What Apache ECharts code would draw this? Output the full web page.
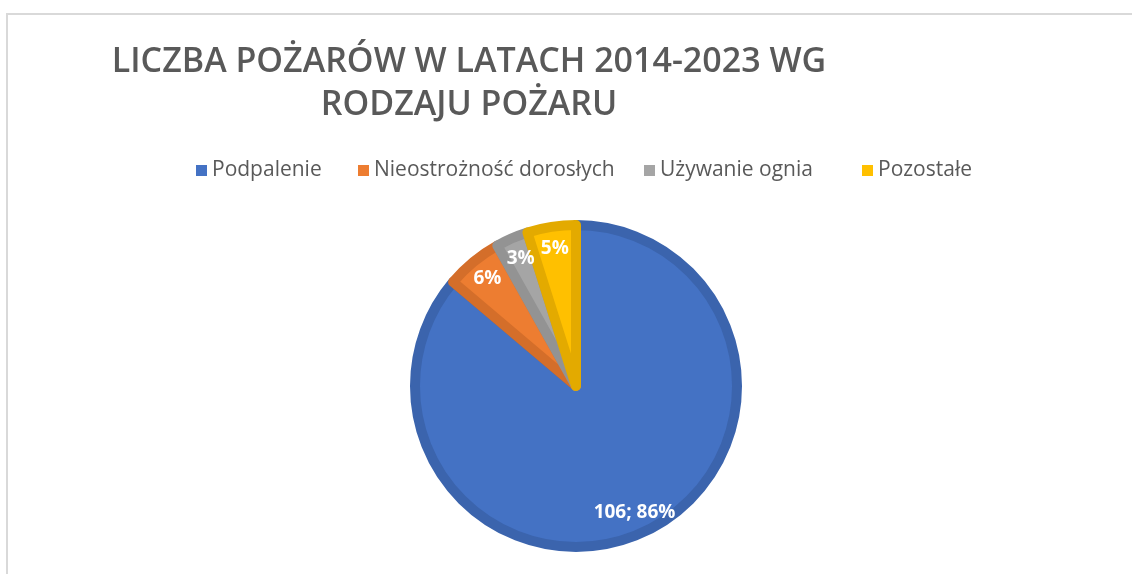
<!DOCTYPE html>
<html>
<head>
<meta charset="utf-8">
<script src="https://cdn.jsdelivr.net/npm/echarts@6/dist/echarts.min.js"></script>
<style>
  html, body { margin: 0; padding: 0; background: #fff; }
  #chart { width: 1132px; height: 574px; }
</style>
</head>
<body>
<div id="chart"></div>
<script>
const categories = ['Podpalenie', 'Nieostrożność dorosłych', 'Używanie ognia', 'Pozostałe']
const values = [106, 7, 4, 6]
const fillColors = ['#4472C4', '#ED7D31', '#A5A5A5', '#FFC000']
const edgeColors = ['#3B64AD', '#D46E2A', '#939393', '#E3AA00']
// left edge of each legend square
const legendLefts = [196, 358, 644, 862]

const cx = 576
const cy = 386
const R = 166

const chart = echarts.init(document.getElementById('chart'))

const pieData = categories.map((name, i) => ({
  name: name,
  value: values[i],
  itemStyle: { color: fillColors[i], borderColor: edgeColors[i] },
}))

const legends = categories.map((name, i) => ({
  data: [name],
  left: legendLefts[i],
  top: 160,
  padding: 0,
  icon: 'rect',
  itemWidth: 11,
  itemHeight: 11,
  itemStyle: { borderWidth: 0 },
  textStyle: {
    fontFamily: 'Open Sans',
    fontSize: 21,
    color: '#595959',
  },
}))

chart.setOption({
  animation: false,
  color: fillColors,
  title: {
    text: 'LICZBA POŻARÓW W LATACH 2014-2023 WG\nRODZAJU POŻARU',
    left: 469,
    top: 41,
    padding: 0,
    textAlign: 'center',
    textStyle: {
      fontFamily: 'Open Sans',
      fontSize: 34,
      fontWeight: 600,
      color: '#595959',
      lineHeight: 43,
    },
  },
  legend: legends,
  graphic: [
    {
      type: 'rect',
      shape: { x: 7, y: 14, width: 1200, height: 620 },
      style: { fill: null, stroke: '#d9d9d9', lineWidth: 2 },
      silent: true,
    },
  ],
  series: [
    {
      type: 'pie',
      center: [cx, cy],
      radius: [0, R - 5],
      startAngle: 90,
      clockwise: true,
      avoidLabelOverlap: false,
      percentPrecision: 0,
      itemStyle: { borderWidth: 10, borderJoin: 'round' },
      label: { show: false },
      labelLine: { show: false },
      data: pieData,
    },
    {
      // same slices, transparent, only to place the labels at ~82% of the radius
      type: 'pie',
      center: [cx, cy],
      radius: [R * 0.64, R],
      startAngle: 90,
      clockwise: true,
      silent: true,
      avoidLabelOverlap: false,
      percentPrecision: 0,
      legendHoverLink: false,
      itemStyle: { color: 'rgba(0,0,0,0)', borderWidth: 0 },
      label: {
        show: true,
        position: 'inside',
        color: '#fff',
        fontFamily: 'Open Sans',
        fontWeight: 'bold',
        fontSize: 19,
        formatter: function (p) {
          return p.dataIndex === 0 ? p.value + '; ' + p.percent + '%' : p.percent + '%'
        },
      },
      labelLine: { show: false },
      data: categories.map((name, i) => ({ name: name, value: values[i] })),
    },
  ],
})
</script>
</body>
</html>
